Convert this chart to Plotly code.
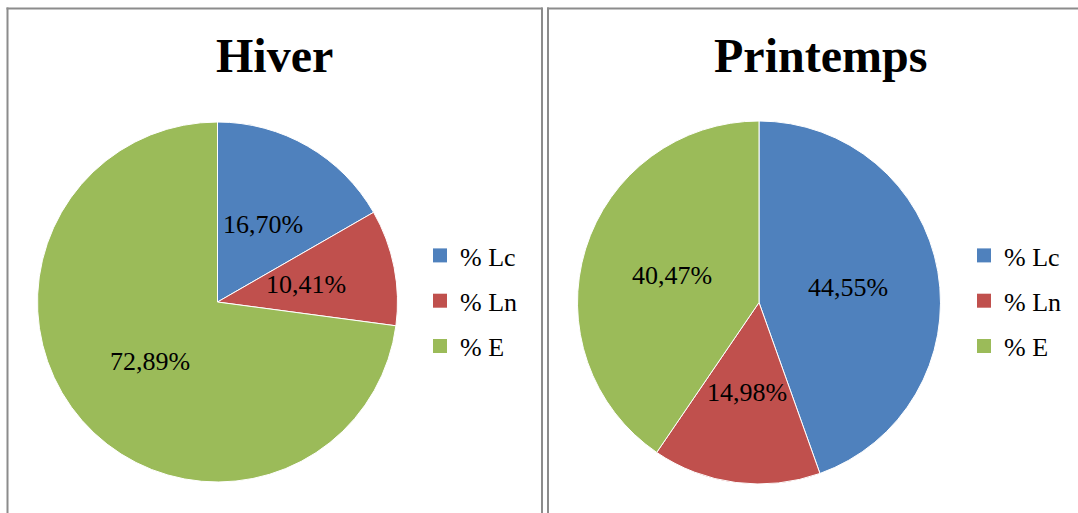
import math
import plotly.graph_objects as go

W, H = 1078, 513

categories = ["% Lc", "% Ln", "% E"]
colors = ["#4F81BD", "#C0504D", "#9BBB59"]
titles = ["Hiver", "Printemps"]
hiver_values = [16.70, 10.41, 72.89]
printemps_values = [44.55, 14.98, 40.47]

# pie geometry in pixels (centre x, centre y from top, radius)
pies = [
    dict(title=titles[0], values=hiver_values, cx=217.5, cy=302, r=180, tx=274, legend="legend"),
    dict(title=titles[1], values=printemps_values, cx=759, cy=302.5, r=181.5, tx=820, legend="legend2"),
]

FONT = "Liberation Serif, Times New Roman, serif"

fig = go.Figure()
annotations = []

for p in pies:
    cx, cy, r = p["cx"], p["cy"], p["r"]
    fig.add_trace(go.Pie(
        labels=categories,
        values=p["values"],
        sort=False,
        direction="clockwise",
        rotation=0,
        marker=dict(colors=colors, line=dict(color="white", width=1)),
        textinfo="none",
        hoverinfo="label+percent",
        showlegend=False,
        domain=dict(x=[(cx - r) / W, (cx + r) / W], y=[1 - (cy + r) / H, 1 - (cy - r) / H]),
    ))
    total = sum(p["values"])
    cum = 0.0
    for v in p["values"]:
        mid = math.radians(90 - 360 * (cum + v / 2) / total)
        cum += v
        lx = cx + 0.5 * r * math.cos(mid)
        ly = cy - 0.5 * r * math.sin(mid)
        annotations.append(dict(
            x=lx / W, y=1 - ly / H, xref="paper", yref="paper",
            text=f"{v:.2f}".replace(".", ",") + "%",
            showarrow=False, xanchor="center", yanchor="middle",
            font=dict(family=FONT, size=26, color="#000000"),
        ))
    annotations.append(dict(
        x=p["tx"] / W, y=1 - 55.5 / H, xref="paper", yref="paper",
        text=f"<b>{p['title']}</b>", showarrow=False,
        xanchor="center", yanchor="middle",
        font=dict(family=FONT, size=48, color="#000000"),
    ))
    # legend entries (dummy traces so the entry spacing can be set)
    for i, (cat, col) in enumerate(zip(categories, colors)):
        fig.add_trace(go.Scatter(
            x=[None], y=[None], mode="markers", name=cat,
            marker=dict(symbol="square", size=14, color=col, line=dict(width=0)),
            legend=p["legend"], legendgroup=p["legend"] + str(i),
            showlegend=True, hoverinfo="skip",
        ))

legend_common = dict(
    font=dict(family=FONT, size=26, color="#000000"),
    bgcolor="rgba(0,0,0,0)", borderwidth=0,
    traceorder="grouped", tracegroupgap=8.5,
    xanchor="left", yanchor="top", itemclick=False, itemdoubleclick=False,
)

shapes = [
    dict(type="line", xref="paper", yref="paper", x0=7.5 / W, x1=7.5 / W, y0=1 - 7.5 / H, y1=-0.1,
         line=dict(color="#8C8C8C", width=2)),
    dict(type="line", xref="paper", yref="paper", x0=6.5 / W, x1=542.5 / W, y0=1 - 8.5 / H, y1=1 - 8.5 / H,
         line=dict(color="#8C8C8C", width=2)),
    dict(type="line", xref="paper", yref="paper", x0=542 / W, x1=542 / W, y0=1 - 7.5 / H, y1=-0.1,
         line=dict(color="#8C8C8C", width=2)),
    dict(type="line", xref="paper", yref="paper", x0=548 / W, x1=548 / W, y0=1 - 7.5 / H, y1=-0.1,
         line=dict(color="#8C8C8C", width=2)),
    dict(type="line", xref="paper", yref="paper", x0=547 / W, x1=1.1, y0=1 - 8.5 / H, y1=1 - 8.5 / H,
         line=dict(color="#8C8C8C", width=2)),
]

fig.update_layout(
    width=W, height=H,
    margin=dict(l=0, r=0, t=0, b=0),
    paper_bgcolor="white", plot_bgcolor="white",
    xaxis=dict(visible=False), yaxis=dict(visible=False),
    annotations=annotations,
    shapes=shapes,
    legend=dict(x=420 / W, y=1 - 232 / H, **legend_common),
    legend2=dict(x=964 / W, y=1 - 232 / H, **legend_common),
    showlegend=True,
)

fig.write_html("out.html")
